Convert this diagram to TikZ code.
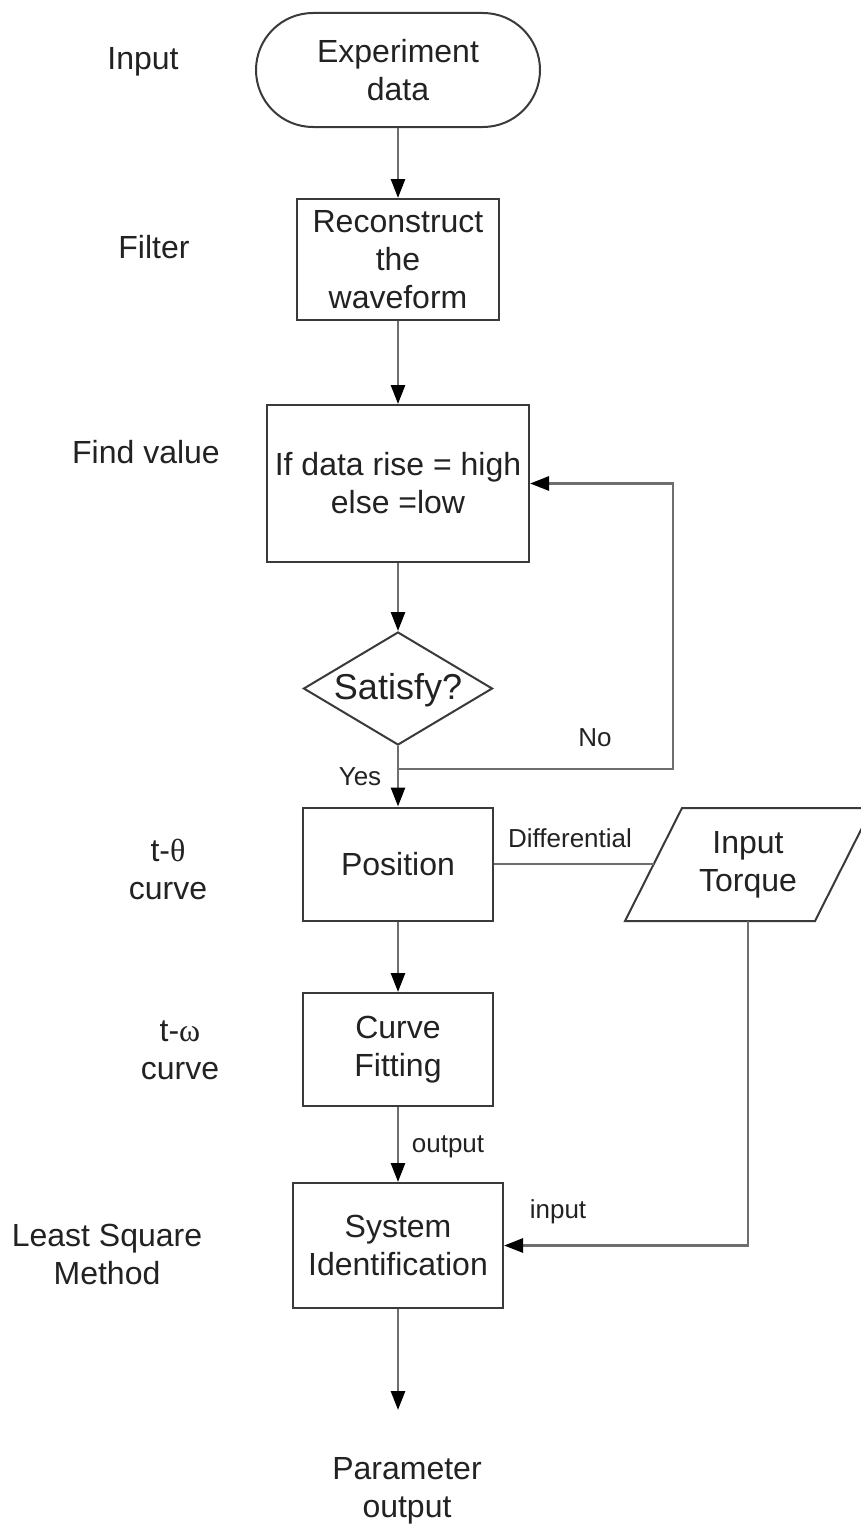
\documentclass[tikz,border=0pt]{standalone}
\usepackage{fontspec}
\setmainfont{Liberation Sans}
\newfontfamily\greekfont{Liberation Serif}
\usetikzlibrary{arrows.meta,shapes.geometric}

\definecolor{ink}{HTML}{222222}
\definecolor{edge}{HTML}{3A3A3A}
\definecolor{wire}{HTML}{6E6E6E}

\begin{document}
\begin{tikzpicture}[x=1pt,y=-1pt,
  every node/.style={text=ink, font=\fontsize{32}{38}\selectfont, align=center, inner sep=0pt},
  box/.style={draw=edge, line width=2pt, fill=white, rectangle},
  stadium/.style={box, rounded corners=57pt, minimum width=284pt, minimum height=114pt},
  decision/.style={draw=edge, line width=2pt, diamond, minimum width=189pt, minimum height=113pt},
  note/.style={font=\fontsize{26}{30}\selectfont},
  wireline/.style={draw=wire, line width=2.8pt},
  flow/.style={wireline, -{Triangle[length=19pt,width=14pt,color=black]}}
]
\useasboundingbox (0,0) rectangle (861,1528);
\fill[white] (0,0) rectangle (861,1528);

% main chain of steps
\node[stadium] (start) at (398,70) {Experiment\\data};
\node[box, minimum width=202pt, minimum height=121pt] (recon) at (398,259.5) {Reconstruct\\the\\waveform};
\node[box, minimum width=262pt, minimum height=157pt] (find) at (398,483.5) {If data rise = high\\else =low};
\node[decision] (sat) at (398,688.5) {};
\node[font=\fontsize{36}{42}\selectfont] (sattext) at (398,690) {Satisfy?};
\node[box, minimum width=190pt, minimum height=113pt] (pos) at (398,864) {Position};
\node[box, minimum width=190pt, minimum height=113pt] (fit) at (398,1049.5) {Curve\\Fitting};
\node[box, minimum width=210pt, minimum height=125pt] (sysid) at (398,1245.5) {System\\Identification};
\node (param) at (407,1491) {Parameter\\output};

% input torque (parallelogram)
\draw[draw=edge, line width=2pt] (625,921) -- (682,808) -- (872,808) -- (815,921) -- cycle;
\node (torque) at (748,865) {Input\\Torque};
\coordinate (tqin) at (653.5,864);
\coordinate (tqout) at (748,921);

% routing points
\coordinate (split) at (398,769);
\coordinate (loop) at (673,769);
\coordinate (paramtip) at (398,1410);

% connectors
\draw[flow] (start) -- (recon);
\draw[flow] (recon) -- (find);
\draw[flow] (find) -- (sat);
\draw[flow] (sat) -- (pos);
\draw[flow] (split) -- (loop) |- (find.east);
\draw[flow] (pos) -- (fit);
\draw[flow] (fit) -- (sysid);
\draw[flow] (sysid) -- (paramtip);
\draw[wireline] (pos.east) -- (tqin);
\draw[flow] (tqout) |- (sysid.east);

% connector labels
\node[note] (lno) at (595,738) {No};
\node[note] (lyes) at (360,777) {Yes};
\node[note] (ldiff) at (570,838) {Differential};
\node[note] (lout) at (448,1147) {output};
\node[note] (lin) at (558,1212) {input};

% stage labels on the left
\node (sinput) at (143,62) {Input};
\node (sfilter) at (154,247) {Filter};
\node (sfind) at (146,452) {Find value};
\node (stheta) at (168,869) {t-{\greekfont θ}\\curve};
\node (somega) at (180,1050) {t-{\greekfont ω}\\curve};
\node (slsm) at (107,1254) {Least Square\\Method};
\end{tikzpicture}
\end{document}
